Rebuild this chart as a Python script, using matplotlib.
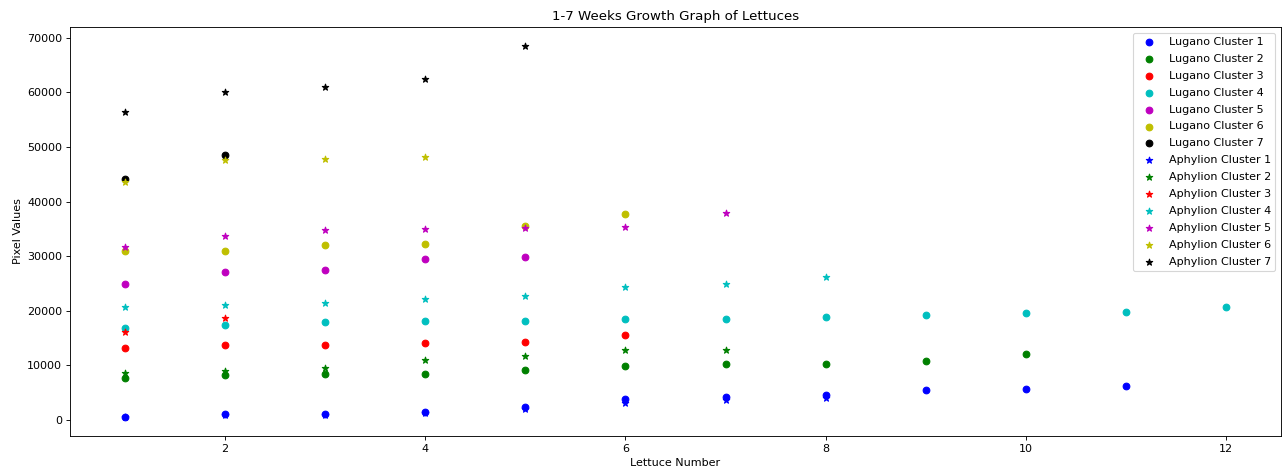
import matplotlib.pyplot as plt

colors = ['b', 'g', 'r', 'c', 'm', 'y', 'k']

# Lugano clusters (circles), values per lettuce number starting at 1
lugano_1 = [600, 1200, 1200, 1500, 2450, 3790, 4270, 4580, 5440, 5620, 6230]
lugano_2 = [7640, 8250, 8490, 8490, 9100, 9900, 10320, 10320, 10750, 12030]
lugano_3 = [13250, 13680, 13680, 14050, 14290, 15520]
lugano_4 = [16800, 17350, 18020, 18200, 18200, 18570, 18570, 18810, 19240, 19670, 19850, 20710]
lugano_5 = [24980, 27060, 27430, 29560, 29930]
lugano_6 = [30970, 30970, 32010, 32250, 35580, 37810]
lugano_7 = [44040, 48560]

# Aphylion clusters (stars)
aphylion_1 = [500, 1000, 1000, 1300, 1960, 3060, 3660, 3970]
aphylion_2 = [8550, 8980, 9590, 10995, 11820, 12830, 12830]
aphylion_3 = [16190, 18630]
aphylion_4 = [20710, 21070, 21380, 22170, 22780, 24430, 24980, 26260]
aphylion_5 = [31700, 33720, 34760, 34940, 35180, 35300, 37990]
aphylion_6 = [43560, 47520, 47770, 48140]
aphylion_7 = [56390, 60110, 60900, 62360, 68540]

lugano = [lugano_1, lugano_2, lugano_3, lugano_4, lugano_5, lugano_6, lugano_7]
aphylion = [aphylion_1, aphylion_2, aphylion_3, aphylion_4, aphylion_5, aphylion_6, aphylion_7]

fig = plt.figure(figsize=(1283 / 80, 473 / 80), dpi=80)
ax = fig.add_axes([70 / 1283, 1 - 436 / 473, 1211 / 1283, 409 / 473])

for i, vals in enumerate(lugano):
    xs = list(range(1, len(vals) + 1))
    ax.scatter(xs, vals, c=colors[i], marker='o', label=f'Lugano Cluster {i + 1}')

for i, vals in enumerate(aphylion):
    xs = list(range(1, len(vals) + 1))
    ax.scatter(xs, vals, c=colors[i], marker='*', label=f'Aphylion Cluster {i + 1}')

ax.set_xlabel('Lettuce Number')
ax.set_ylabel('Pixel Values')
ax.set_title('1-7 Weeks Growth Graph of Lettuces')
ax.legend(loc='upper right', labelspacing=0.62)

fig.savefig('out.png', dpi=80)
